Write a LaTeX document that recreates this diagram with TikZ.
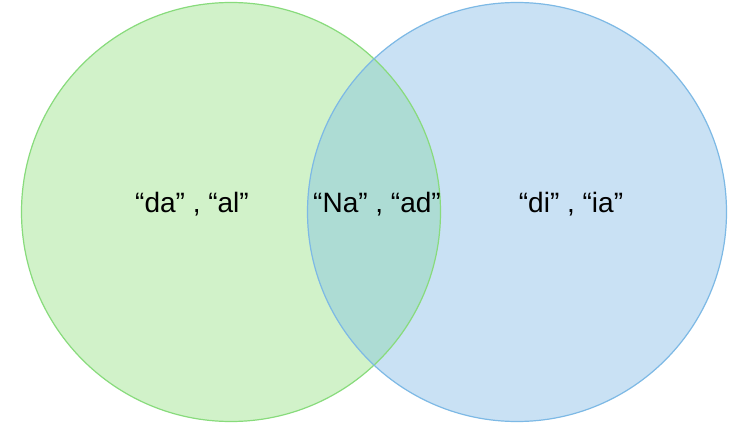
\documentclass[tikz,border=0pt]{standalone}
\usepackage{fontspec}
\setmainfont{Liberation Sans}
\definecolor{gfill}{HTML}{D1F2C9}
\definecolor{gline}{HTML}{88DB7C}
\definecolor{bfill}{HTML}{C9E1F4}
\definecolor{bline}{HTML}{7DB9E5}
\definecolor{mix}{HTML}{ADDCD4}
\tikzset{lbl/.style={font=\fontsize{28}{30}\selectfont, anchor=base, inner sep=0pt}}
\begin{document}
\begin{tikzpicture}[x=1pt,y=1pt]
\useasboundingbox (0,0) rectangle (751,426);
\fill[white] (0,0) rectangle (751,426);
\fill[gfill] (231,214) circle (209.5);
\fill[bfill] (517,214) circle (209.5);
\begin{scope}
\clip (231,214) circle (209.5);
\fill[mix] (517,214) circle (209.5);
\end{scope}
\draw[gline, line width=1.2pt] (231,214) circle (209.5);
\draw[bline, line width=1.2pt] (517,214) circle (209.5);
\node[lbl] (a) at (192,213) {“da” , “al”};
\node[lbl] (b) at (377,213) {“Na” , “ad”};
\node[lbl] (c) at (571,213) {“di” , “ia”};
\end{tikzpicture}
\end{document}
